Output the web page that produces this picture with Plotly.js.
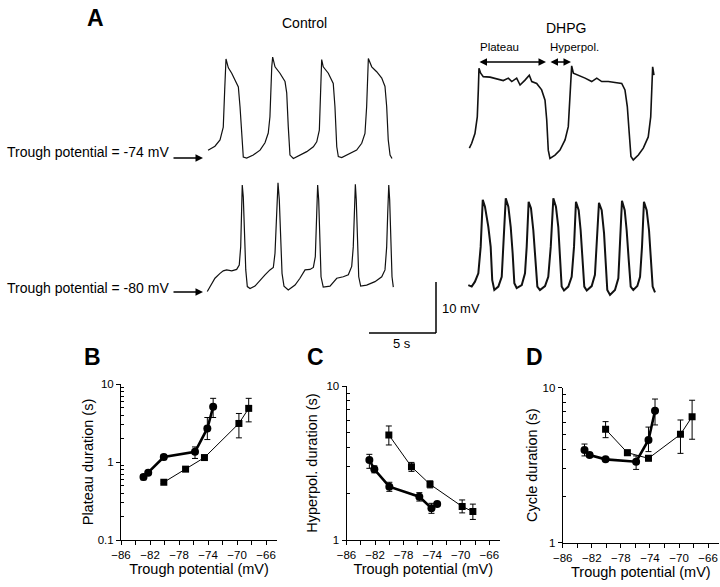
<!DOCTYPE html>
<html><head><meta charset="utf-8">
<script src="https://cdn.plot.ly/plotly-3.0.1.min.js"></script>
<style>html,body{margin:0;padding:0;background:#fff}#chart{width:720px;height:587px}</style>
</head><body><div id="chart"></div>
<script>
// ---------- Panel A: membrane potential traces (time in s, potential in mV) ----------
const ctrlTopT = [0.62,1.15,1.54,1.79,1.90,2.00,2.18,2.44,2.69,2.95,3.08,3.21,3.33,3.59,4.10,4.62,5.00,5.25,5.38,5.52,5.59,5.77,6.15,6.54,6.67,6.79,6.92,7.18,7.69,8.21,8.72,8.98,9.18,9.28,9.36,9.48,9.87,10.25,10.38,10.52,10.64,10.90,11.54,12.05,12.44,12.69,12.82,12.90,12.95,13.21,13.59,13.98,14.23,14.36,14.48,14.62,14.77];
const ctrlTopV = [-72.6,-71.8,-70.5,-67.9,-60.3,-54.0,-55.8,-56.9,-58.3,-59.7,-63.8,-70.5,-74.0,-74.2,-73.6,-72.6,-71.1,-69.1,-65.8,-55.6,-53.6,-55.6,-56.9,-58.6,-60.9,-67.8,-73.6,-74.3,-73.6,-72.9,-71.9,-70.9,-68.5,-60.3,-54.1,-55.6,-56.9,-59.0,-63.7,-71.9,-73.9,-74.1,-73.2,-72.6,-71.2,-69.2,-63.7,-56.9,-53.9,-55.6,-56.6,-57.9,-59.6,-63.7,-70.5,-73.6,-74.3];

const ctrlBotT = [0.56,0.77,1.15,1.54,1.79,2.05,2.44,2.82,3.02,3.13,3.21,3.25,3.33,3.41,3.52,3.64,3.85,4.23,4.62,5.00,5.38,5.64,5.77,5.90,6.00,6.10,6.21,6.31,6.46,6.79,7.31,7.69,8.08,8.46,8.72,8.87,8.98,9.05,9.13,9.21,9.31,9.48,10.00,10.52,11.02,11.41,11.67,11.79,11.90,11.95,12.02,12.10,12.21,12.36,12.82,13.46,13.98,14.23,14.36,14.44,14.52,14.59,14.67,14.77,14.87];
const ctrlBotV = [-80.3,-79.3,-77.6,-76.6,-76.1,-75.9,-76.1,-75.8,-74.9,-71.2,-64.3,-58.6,-61.0,-67.8,-75.9,-79.3,-79.7,-79.2,-78.0,-76.9,-75.9,-75.4,-72.5,-64.3,-58.1,-61.6,-69.8,-76.6,-79.2,-80.0,-79.0,-77.6,-75.9,-75.8,-75.4,-73.2,-64.3,-58.6,-61.6,-69.8,-77.3,-79.4,-79.2,-77.6,-77.3,-76.9,-75.2,-71.2,-64.3,-58.4,-61.6,-69.8,-77.3,-79.2,-79.0,-78.3,-77.3,-75.9,-71.2,-64.3,-58.6,-61.6,-69.8,-77.3,-79.4];

const dhpgTopT = [0.72,0.90,1.15,1.33,1.41,1.46,1.59,1.79,2.31,2.82,3.33,3.72,3.98,4.36,4.62,5.00,5.33,5.52,5.90,6.28,6.54,6.67,6.79,6.92,7.31,7.69,8.08,8.33,8.52,8.59,8.72,9.10,9.62,10.13,10.52,10.90,11.41,11.92,12.44,12.69,12.87,13.02,13.15,13.33,13.72,14.10,14.48,14.67,14.75,14.82,14.92];
const dhpgTopV = [-72.0,-71.0,-69.0,-65.6,-60.1,-55.7,-56.7,-57.4,-57.5,-57.9,-58.2,-57.7,-58.4,-57.7,-59.1,-58.1,-57.1,-58.4,-58.8,-60.1,-62.2,-66.2,-72.4,-74.1,-73.4,-72.4,-70.3,-67.6,-60.1,-55.2,-56.7,-57.1,-57.7,-58.4,-57.7,-58.4,-58.4,-58.6,-58.8,-60.1,-63.5,-69.0,-73.7,-74.4,-73.4,-72.0,-69.7,-65.6,-60.1,-55.4,-57.1];

const dhpgBotT = [0.64,0.90,1.15,1.41,1.59,1.75,1.92,2.18,2.36,2.48,2.64,2.95,3.21,3.33,3.52,3.72,3.90,4.05,4.18,4.36,4.75,5.00,5.13,5.28,5.46,5.64,5.79,5.95,6.15,6.54,6.79,6.98,7.18,7.38,7.56,7.69,7.82,8.00,8.33,8.59,8.77,8.92,9.13,9.28,9.44,9.56,9.75,10.13,10.38,10.52,10.69,10.90,11.08,11.21,11.33,11.54,11.92,12.18,12.31,12.46,12.67,12.82,12.98,13.13,13.33,13.64,13.85,14.00,14.15,14.36,14.54,14.67,14.82,15.00];
const dhpgBotV = [-78.8,-79.1,-78.1,-76.4,-71.0,-61.4,-62.8,-66.9,-71.0,-77.8,-79.8,-79.1,-77.1,-71.0,-61.1,-62.8,-66.9,-72.3,-78.4,-79.4,-78.8,-76.4,-71.0,-61.8,-63.1,-67.6,-73.0,-79.1,-79.8,-79.0,-77.1,-71.0,-61.1,-62.8,-66.9,-73.0,-79.1,-79.9,-79.1,-77.1,-71.0,-61.8,-63.5,-67.6,-74.3,-79.1,-79.9,-79.0,-76.7,-71.0,-62.0,-63.5,-68.2,-74.3,-79.8,-80.8,-79.8,-77.4,-71.0,-61.6,-63.5,-67.6,-73.7,-79.1,-79.8,-79.0,-77.1,-71.0,-61.8,-63.5,-67.6,-73.7,-79.1,-80.3];

// ---------- Panels B-D: durations vs trough potential ----------
// thick line + circles (series 1), thin line + squares (series 2)
const bThickX = [-82.9,-82.25,-80.1,-75.8,-74.1,-73.3];
const bThickY = [0.64,0.73,1.16,1.35,2.69,5.1];
const bThickUp = [0.05,0.04,0.08,0.21,1.03,1.45];
const bThickDn = [0.05,0.04,0.09,0.24,0.75,1.38];
const bThinX = [-80.1,-77.1,-74.5,-69.75,-68.4];
const bThinY = [0.55,0.81,1.14,3.12,4.87];
const bThinUp = [0.02,0.03,0.05,1.07,1.68];
const bThinDn = [0.02,0.03,0.05,1.08,1.6];

const cThickX = [-82.8,-82.1,-80.0,-75.8,-74.1,-73.3];
const cThickY = [3.31,2.88,2.22,1.91,1.61,1.71];
const cThickUp = [0.29,0.15,0.15,0.12,0.12,0.05];
const cThickDn = [0.39,0.15,0.15,0.12,0.12,0.05];
const cThinX = [-80.07,-76.9,-74.3,-69.8,-68.3];
const cThinY = [4.81,2.99,2.30,1.65,1.53];
const cThinUp = [0.69,0.2,0.12,0.17,0.18];
const cThinDn = [0.67,0.2,0.12,0.15,0.17];

const dThickX = [-83.0,-82.3,-80.1,-75.9,-74.2,-73.3];
const dThickY = [3.96,3.68,3.45,3.33,4.6,7.1];
const dThickUp = [0.37,0.1,0.08,0.3,0.97,1.35];
const dThickDn = [0.33,0.1,0.08,0.36,0.73,1.35];
const dThinX = [-80.1,-77.1,-74.2,-69.8,-68.2];
const dThinY = [5.39,3.81,3.5,5.0,6.5];
const dThinUp = [0.65,0.15,0.12,1.19,1.8];
const dThinDn = [0.63,0.15,0.12,1.23,1.85];

const xTickStart = -86, xTickStep = 4;

// ---------- geometry helpers ----------
const W = 720, H = 587;
const PX = p => p / W;
const PY = p => 1 - p / H;
const FONT = '"Liberation Sans", Arial, sans-serif';

const traces = [];
function trace(t, v, xa, ya, w) {
  traces.push({x: t, y: v, xaxis: xa, yaxis: ya, type: 'scatter', mode: 'lines',
    line: {color: '#111', width: w}, hoverinfo: 'skip'});
}
trace(ctrlTopT, ctrlTopV, 'x', 'y', 1.2);
trace(ctrlBotT, ctrlBotV, 'x2', 'y2', 1.2);
trace(dhpgTopT, dhpgTopV, 'x3', 'y3', 1.6);
trace(dhpgBotT, dhpgBotV, 'x4', 'y4', 2.0);

function series(x, y, up, dn, xa, ya, thick) {
  traces.push({x, y, xaxis: xa, yaxis: ya, type: 'scatter', mode: 'lines+markers',
    line: {color: '#000', width: thick ? 2.6 : 1},
    marker: {symbol: thick ? 'circle' : 'square', size: thick ? 8 : 7, color: '#000'},
    error_y: {type: 'data', symmetric: false, array: up, arrayminus: dn, color: '#000', thickness: 1, width: 3},
    hoverinfo: 'skip'});
}
series(bThinX, bThinY, bThinUp, bThinDn, 'x5', 'y5', false);
series(bThickX, bThickY, bThickUp, bThickDn, 'x5', 'y5', true);
series(cThinX, cThinY, cThinUp, cThinDn, 'x6', 'y6', false);
series(cThickX, cThickY, cThickUp, cThickDn, 'x6', 'y6', true);
series(dThinX, dThinY, dThinUp, dThinDn, 'x7', 'y7', false);
series(dThickX, dThickY, dThickUp, dThickDn, 'x7', 'y7', true);

function hidden(dom, range, anchor) {
  return {domain: dom, range, anchor, visible: false, fixedrange: true};
}
function xAx(x0, x1, anchor) {
  return {domain: [PX(x0), PX(x1)], anchor, range: [-86, -64.5], showline: true, linecolor: '#000', linewidth: 1,
    ticks: 'outside', ticklen: 4, tickcolor: '#000', tick0: xTickStart, dtick: xTickStep,
    minor: {ticks: 'outside', dtick: 2, tick0: -86, ticklen: 4, tickcolor: '#000'},
    showgrid: false, zeroline: false, tickfont: {size: 11.5, color: '#000'},
    title: {text: 'Trough potential (mV)', font: {size: 14.5, color: '#000'}, standoff: 4}, fixedrange: true};
}
const minorVals = [0.2,0.3,0.4,0.5,0.6,0.7,0.8,0.9,2,3,4,5,6,7,8,9];
function yAx(y0, y1, anchor, range, vals, title, standoff) {
  return {domain: [PY(y1), PY(y0)], anchor, type: 'log', range, tickmode: 'array', tickvals: vals,
    ticktext: vals.map(String), showline: true, linecolor: '#000', linewidth: 1,
    ticks: 'outside', ticklen: 4, tickcolor: '#000',
    minor: {ticks: 'inside', ticklen: 3, tickmode: 'array', tickvals: minorVals, tickcolor: '#000'},
    showgrid: false, zeroline: false, tickfont: {size: 11.5, color: '#000'},
    title: {text: title, font: {size: 14.5, color: '#000'}, standoff}, fixedrange: true};
}

const ctrlX = [PX(200), PX(400)], dhpgX = [PX(460), PX(660)];
const topY = [PY(170), PY(40)], botY = [PY(300), PY(175)];

const ann = [];
function txt(text, x, y, size, opts) {
  ann.push(Object.assign({text, x: PX(x), y: PY(y), xref: 'paper', yref: 'paper', showarrow: false,
    font: {size, family: FONT, color: '#000'}, xanchor: 'center', yanchor: 'middle'}, opts || {}));
}
txt('<b>A</b>', 95, 18, 23);
txt('Control', 304, 23, 14);
txt('DHPG', 566, 28, 14);
txt('<b>B</b>', 92, 357, 23);
txt('<b>C</b>', 315, 357, 23);
txt('<b>D</b>', 534, 357, 23);
txt('Trough potential = -74 mV', 5, 152, 14, {xanchor: 'left'});
txt('Trough potential = -80 mV', 5, 288, 14, {xanchor: 'left'});
txt('Plateau', 478, 47, 11.5, {xanchor: 'left'});
txt('Hyperpol.', 548, 47, 11.5, {xanchor: 'left'});
txt('10 mV', 440, 308, 13, {xanchor: 'left'});
txt('5 s', 402, 343, 13);

function arrow(xHead, y, dx, both) {
  ann.push({text: '', x: PX(xHead), y: PY(y), xref: 'paper', yref: 'paper', showarrow: true,
    ax: dx, ay: 0, axref: 'pixel', ayref: 'pixel', arrowhead: 2, arrowsize: 1, arrowwidth: 1.5,
    arrowcolor: '#000', arrowside: both ? 'end+start' : 'end', startarrowhead: 2, startarrowsize: 1});
}
arrow(203, 158, -31, false);
arrow(203, 292, -31, false);
arrow(546, 62, -68, true);
arrow(571, 62, -22, true);

const shapes = [
  {type: 'line', xref: 'paper', yref: 'paper', x0: PX(436), x1: PX(436), y0: PY(282), y1: PY(333), line: {color: '#000', width: 1.5}},
  {type: 'line', xref: 'paper', yref: 'paper', x0: PX(369), x1: PX(436), y0: PY(333), y1: PY(333), line: {color: '#000', width: 1.5}}
];

const layout = {
  width: W, height: H, margin: {l: 0, r: 0, t: 0, b: 0}, showlegend: false,
  paper_bgcolor: '#fff', plot_bgcolor: 'rgba(0,0,0,0)',
  font: {family: FONT, color: '#000'},
  xaxis: hidden(ctrlX, [0, 200 / 13], 'y'),
  yaxis: hidden(topY, [-76.65, -50.12], 'x'),
  xaxis2: hidden(ctrlX, [0, 200 / 13], 'y2'),
  yaxis2: hidden(botY, [-82.04, -56.53], 'x2'),
  xaxis3: hidden(dhpgX, [0, 200 / 13], 'y3'),
  yaxis3: hidden(topY, [-76.45, -49.92], 'x3'),
  xaxis4: hidden(dhpgX, [0, 200 / 13], 'y4'),
  yaxis4: hidden(botY, [-81.84, -56.33], 'x4'),
  xaxis5: xAx(121, 277, 'y5'),
  yaxis5: yAx(384, 540, 'x5', [-1, 1], [0.1, 1, 10], 'Plateau duration (s)', 0),
  xaxis6: xAx(346.5, 500, 'y6'),
  yaxis6: yAx(386, 540, 'x6', [0, 1], [1, 10], 'Hyperpol. duration (s)', 5),
  xaxis7: xAx(562.7, 719, 'y7'),
  yaxis7: yAx(387.7, 542.7, 'x7', [0, 1], [1, 10], 'Cycle duration (s)', 1),
  annotations: ann, shapes
};
Plotly.newPlot('chart', traces, layout, {displayModeBar: false, staticPlot: true});
</script></body></html>
